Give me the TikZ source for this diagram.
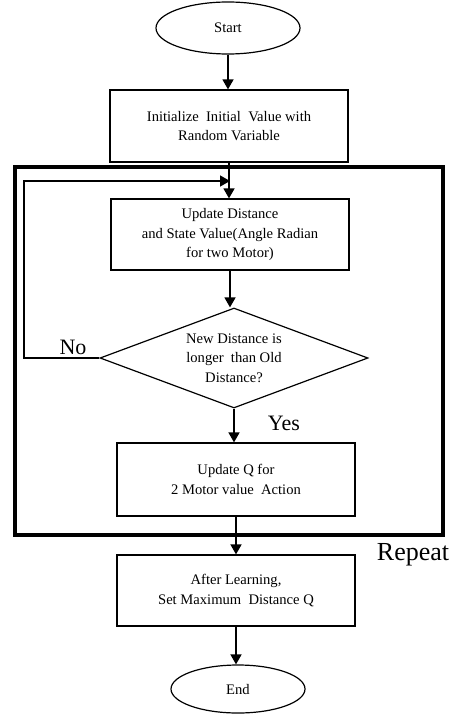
\documentclass[tikz,border=0pt]{standalone}
\usepackage{fontspec}
\setmainfont{Liberation Serif}
\usetikzlibrary{positioning,calc,arrows.meta,shapes.geometric}
\tikzset{font=\fontsize{14.6}{19.5}\selectfont}

\begin{document}
\begin{tikzpicture}[x=1pt, y=-1pt, line width=1.2pt]
	\useasboundingbox (0,0) rectangle (455,714);
	\tikzstyle{every node}=[align=center, inner sep=1pt]
	\tikzstyle{box}=[draw, minimum width=238pt, minimum height=72pt]
	\tikzstyle{term}=[draw, ellipse, minimum width=144pt, minimum height=52pt]
	\tikzstyle{arr}=[-{Triangle[length=10pt, width=11pt]}, line width=1.5pt]
	\tikzstyle{big}=[font=\fontsize{22}{26}\selectfont]

	\node[term] (start) at (228, 28) {Start};
	\node[box] (init) at (229, 126) {Initialize~ Initial~ Value with\\Random Variable};
	\node[box, minimum height=71pt] (upd) at (230, 234.5) {Update Distance\\and State Value(Angle Radian\\for two Motor)};
	\node[draw, diamond, aspect=2.68, inner sep=0pt, minimum width=268pt, minimum height=100pt] (dia) at (234, 358) {New Distance is\\longer~ than Old\\Distance?};
	\node[box, minimum height=73pt] (qup) at (236, 479.5) {Update Q for\\2 Motor value~ Action};
	\node[box, minimum height=71pt] (after) at (236, 590.5) {After Learning,\\Set Maximum~ Distance Q};
	\node[term, minimum width=134pt, minimum height=48pt] (end) at (238, 689) {End};

	\node[big] (no) at (73, 347) {No};
	\node[big] (yes) at (284, 423) {Yes};
	\node[big, font=\fontsize{26}{30}\selectfont] (rep) at (413, 555) {Repeat};

	% repeat frame
	\draw[line width=3.5pt] (15, 167) rectangle (443, 535);

	\coordinate (back) at (24, 358);
	\coordinate (join) at (230, 181);

	\draw[arr] (start.south) -- (start.south |- init.north);
	\draw[arr] (init.south) -- (init.south |- upd.north);
	\draw[arr] (upd.south) -- (upd.south |- dia.north);
	\draw[arr] (dia.south) -- (dia.south |- qup.north);
	\draw[arr] (qup.south) -- (qup.south |- after.north);
	\draw[arr] (after.south) -- (after.south |- end.north);
	\draw[arr] (dia.west) -- (back) |- (join);
\end{tikzpicture}
\end{document}
